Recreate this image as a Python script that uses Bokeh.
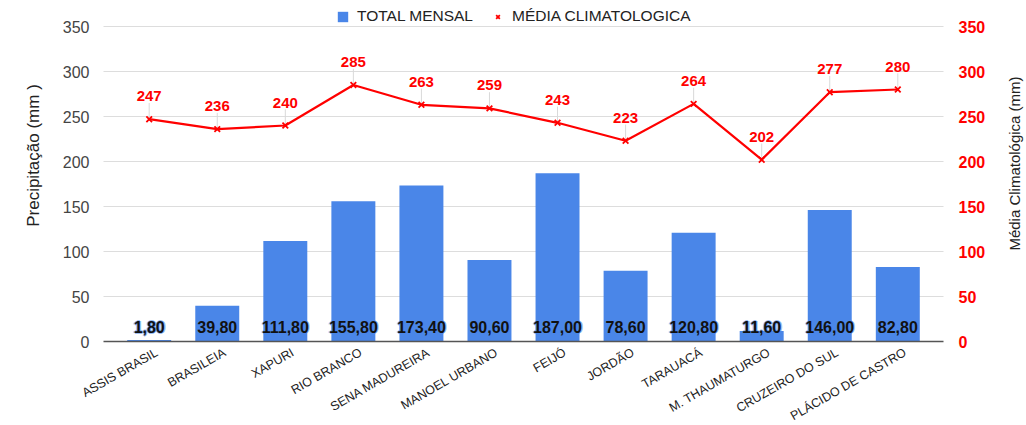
import math
from bokeh.plotting import figure
from bokeh.models import (ColumnDataSource, Range1d, LinearAxis,
                          FixedTicker, Legend, LegendItem, Label)
from bokeh.core.properties import value
from bokeh.embed import file_html
from bokeh.resources import INLINE

stations = ["ASSIS BRASIL", "BRASILEIA", "XAPURI", "RIO BRANCO", "SENA MADUREIRA",
            "MANOEL URBANO", "FEIJÓ", "JORDÃO", "TARAUACÁ", "M. THAUMATURGO",
            "CRUZEIRO DO SUL", "PLÁCIDO DE CASTRO"]
total_mensal = [1.80, 39.80, 111.80, 155.80, 173.40, 90.60, 187.00, 78.60,
                120.80, 11.60, 146.00, 82.80]
media_climatologica = [247, 236, 240, 285, 263, 259, 243, 223, 264, 202, 277, 280]
y_ticks = [0, 50, 100, 150, 200, 250, 300, 350]

FONT = "Liberation Sans"
BLUE = "#4a86e8"
RED = "#ff0000"

W, H = 1024, 425
LEFT, RIGHT, BOTTOM = 103, 943, 341   # plot-area edges in page pixels
PAD = 0.1715                          # room beyond first/last category slot
YPX = 0.9                             # pixels per mm
LABEL_SHIFT = 0.11                    # rotated names end a little right of bar centre

idx = list(range(len(stations)))
a0, a1 = -0.5 - PAD, len(stations) - 0.5 + PAD      # plot-area x extent
ppu = (RIGHT - LEFT) / (a1 - a0)
def px_to_x(px):
    return a0 + (px - LEFT) / ppu
def py_to_y(py):
    return (BOTTOM - py) / YPX

bar_src = ColumnDataSource(dict(
    x=idx, top=total_mensal,
    lbl=[f"{v:.2f}".replace(".", ",") for v in total_mensal],
    ly=[16.0] * len(stations),
))
line_src = ColumnDataSource(dict(
    x=idx, y=media_climatologica,
    lbl=[str(v) for v in media_climatologica],
    ly=[v + 25.5 for v in media_climatologica],
    lead=[v + 18 for v in media_climatologica],
))
grid_src = ColumnDataSource(dict(y=y_ticks[1:]))

p = figure(x_range=Range1d(px_to_x(0), px_to_x(W)),
           y_range=Range1d(py_to_y(H), py_to_y(0)),
           width=W, height=H, output_backend="svg", toolbar_location=None,
           min_border=0)
p.extra_y_ranges = {"clim": Range1d(py_to_y(H), py_to_y(0))}
p.outline_line_color = None
p.xgrid.grid_line_color = None
p.ygrid.grid_line_color = None

# horizontal gridlines across the plot area only
p.segment(x0=a0, x1=a1, y0="y", y1="y", source=grid_src,
          line_color="#dddddd", line_width=1)

# left axis
ya = p.yaxis[0]
ya.fixed_location = a0
ya.ticker = FixedTicker(ticks=y_ticks)
ya.axis_line_color = None
ya.major_tick_line_color = None
ya.minor_tick_line_color = None
ya.major_label_text_font = FONT
ya.major_label_text_font_size = "16px"
ya.major_label_text_color = "#444444"
ya.major_label_standoff = 8

# right axis
raxis = LinearAxis(y_range_name="clim", ticker=FixedTicker(ticks=y_ticks),
                   fixed_location=a1)
raxis.axis_line_color = None
raxis.major_tick_line_color = None
raxis.minor_tick_line_color = None
raxis.major_label_text_font = FONT
raxis.major_label_text_font_size = "16px"
raxis.major_label_text_font_style = "bold"
raxis.major_label_text_color = RED
raxis.major_label_standoff = 9
p.add_layout(raxis, "right")

# category axis at y = 0
tick_pos = [i + LABEL_SHIFT for i in idx]
xa = p.xaxis[0]
xa.fixed_location = 0
xa.bounds = (a0, a1)
xa.ticker = FixedTicker(ticks=tick_pos)
xa.major_label_overrides = {t: s for t, s in zip(tick_pos, stations)}
xa.major_label_orientation = math.pi / 6
xa.axis_line_color = "#555555"
xa.axis_line_width = 1.5
xa.major_tick_line_color = None
xa.minor_tick_line_color = None
xa.major_label_text_font = FONT
xa.major_label_text_font_size = "12.5px"
xa.major_label_text_color = "#222222"
xa.major_label_standoff = 4

# axis titles
p.add_layout(Label(x=px_to_x(33), y=py_to_y(155), text="Precipitação (mm )",
                   angle=math.pi / 2, text_align="center", text_baseline="middle",
                   text_font=FONT, text_font_size="17px", text_color="#222222"))
p.add_layout(Label(x=px_to_x(1014), y=py_to_y(163), text="Média Climatológica (mm)",
                   angle=math.pi / 2, text_align="center", text_baseline="middle",
                   text_font=FONT, text_font_size="15px", text_color="#222222"))

# bars
bars = p.vbar(x="x", top="top", width=0.646, source=bar_src, color=BLUE,
              line_color=None)
for dx, dy in [(-1.3, 0), (1.3, 0), (0, -1.3), (0, 1.3)]:
    p.text(x="x", y="ly", text="lbl", source=bar_src, text_align="center",
           text_baseline="middle", text_font=value(FONT), text_font_size="16px",
           text_font_style="bold", text_color=BLUE, text_alpha=0.55,
           x_offset=dx, y_offset=dy)
p.text(x="x", y="ly", text="lbl", source=bar_src, text_align="center",
       text_baseline="middle", text_font=value(FONT), text_font_size="16px",
       text_font_style="bold", text_color="#111111")

# climatology line
p.segment(x0="x", y0="y", x1="x", y1="lead", source=line_src,
          line_color="#d9d9d9", line_width=1, y_range_name="clim")
p.line(x="x", y="y", source=line_src, line_color=RED, line_width=2.2,
       y_range_name="clim")
marks = p.scatter(x="x", y="y", source=line_src, marker="x", size=8,
                  line_color=RED, line_width=1.8, y_range_name="clim")
p.text(x="x", y="ly", text="lbl", source=line_src, text_align="center",
       text_baseline="middle", text_font=value(FONT), text_font_size="15px",
       text_font_style="bold", text_color=RED, y_range_name="clim")

legend = Legend(items=[LegendItem(label="TOTAL MENSAL", renderers=[bars]),
                       LegendItem(label="MÉDIA CLIMATOLOGICA", renderers=[marks])],
                location=(332, H - 29), orientation="horizontal")
legend.border_line_alpha = 0
legend.background_fill_alpha = 0
legend.label_text_font = FONT
legend.label_text_font_size = "15.5px"
legend.label_text_color = "#222222"
legend.glyph_width = 13
legend.glyph_height = 13
legend.label_height = 13
legend.label_standoff = 8
legend.spacing = 18
legend.padding = 4
legend.margin = 0
p.add_layout(legend)

open("out.html", "w").write(file_html(p, INLINE))
